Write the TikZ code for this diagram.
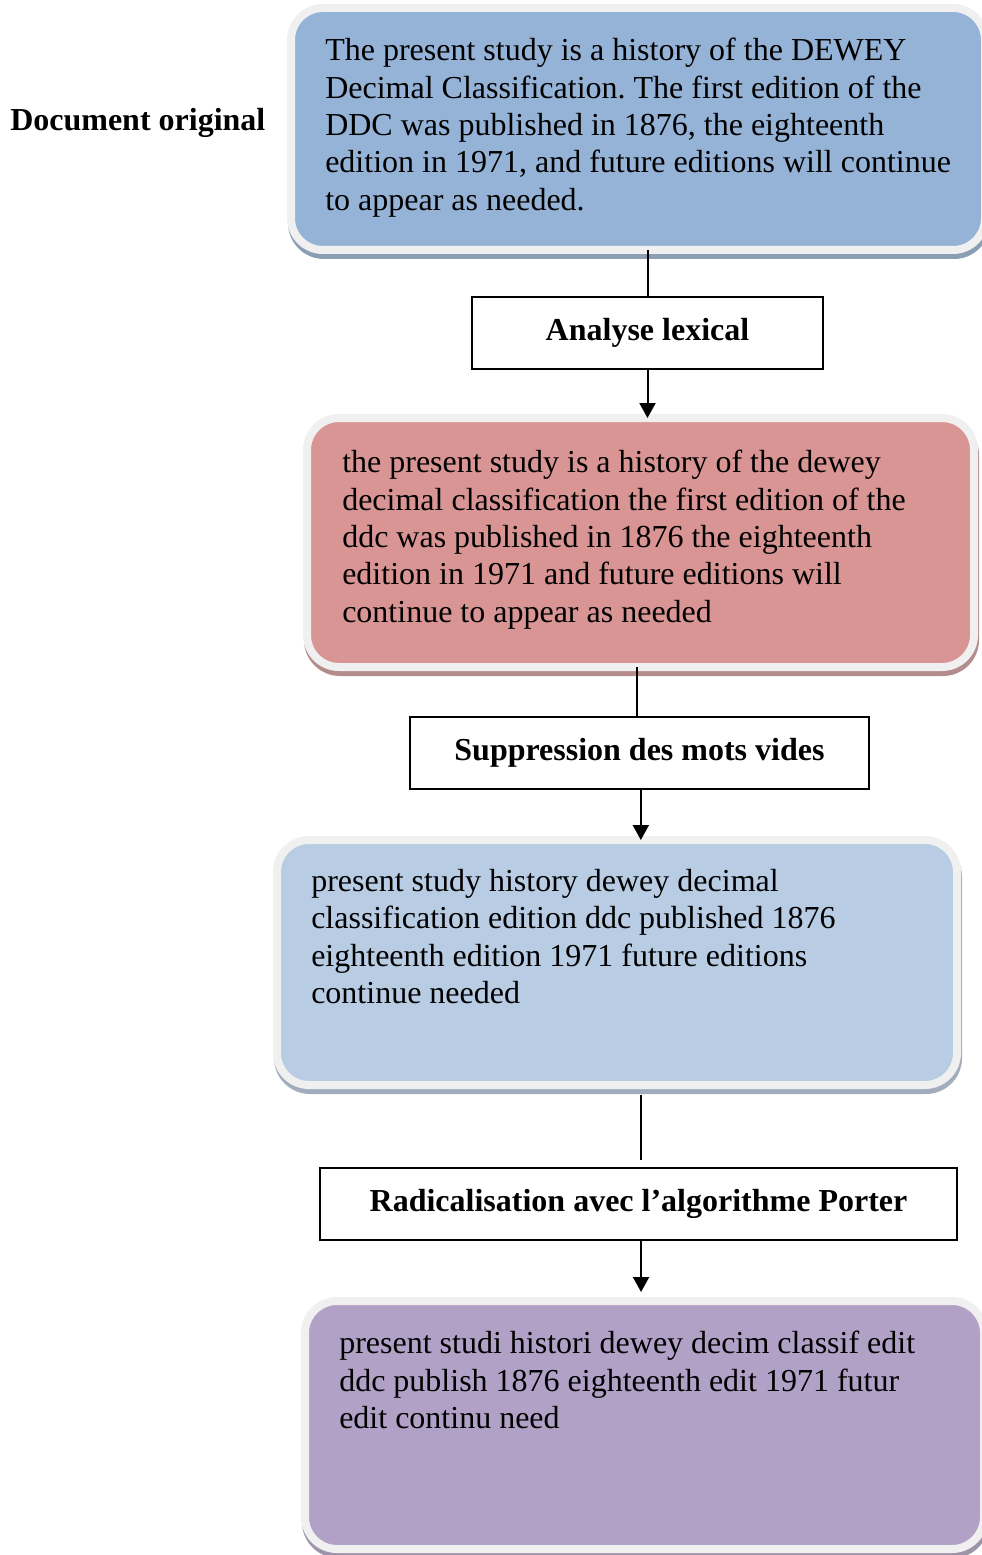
\documentclass[tikz,border=0pt]{standalone}
\usepackage{fontspec}
\setmainfont{Liberation Serif}
\usetikzlibrary{arrows.meta,shadows}
\frenchspacing

\definecolor{boxrim}{RGB}{240,240,240}
\definecolor{origblue}{RGB}{149,179,215}
\definecolor{lexred}{RGB}{217,149,148}
\definecolor{videblue}{RGB}{184,204,228}
\definecolor{porterlilac}{RGB}{178,161,199}

\begin{document}
\begin{tikzpicture}[x=0.75pt,y=0.75pt,yscale=-1,xscale=1,
  roundbox/.style={rectangle, rounded corners=24pt, draw=boxrim, line width=6pt, fill=#1, inner sep=0pt, outer sep=0pt,
    drop shadow={shadow xshift=0.75pt, shadow yshift=-3.75pt, draw=#1!60!gray, fill=#1!60!gray, line width=6pt, opacity=1}},
  boxtext/.style={anchor=north west, inner sep=0pt, align=left, font=\fontsize{24pt}{28pt}\selectfont},
  stepbox/.style={draw, line width=1.5pt, inner sep=0pt, minimum height=54pt, font=\fontsize{24pt}{28pt}\selectfont\bfseries},
  link/.style={line width=1.5pt},
  flow/.style={line width=1.5pt, -{Triangle[length=11.25pt,width=12pt]}}]
\useasboundingbox (0,0) rectangle (981,1555);

%Rounded Rect
\node[roundbox=origblue, minimum width=520.5pt, minimum height=181.5pt] (doc) at (638,129) {};
\node[boxtext] (doctxt) at (325,38) {The present study is a history of the DEWEY\\Decimal Classification. The first edition of the\\DDC was published in 1876, the eighteenth\\edition in 1971, and future editions will continue\\to appear as needed.};
%Text
\node[anchor=base west, inner sep=0pt, font=\fontsize{24pt}{28pt}\selectfont\bfseries] (doclabel) at (10,131) {Document original};

%Shape: Rectangle
\node[stepbox, minimum width=263.25pt] (analyse) at (647.5,333) {\raisebox{1.5pt}{Analyse lexical}};

%Rounded Rect
\node[roundbox=lexred, minimum width=500.25pt, minimum height=186.75pt] (lex) at (640.5,542.5) {};
\node[boxtext] (lextxt) at (342,450) {the present study is a history of the dewey\\decimal classification the first edition of the\\ddc was published in 1876 the eighteenth\\edition in 1971 and future editions will\\continue to appear as needed};

%Shape: Rectangle
\node[stepbox, minimum width=344.25pt] (suppr) at (639.5,753) {\raisebox{1.5pt}{Suppression des mots vides}};

%Rounded Rect
\node[roundbox=videblue, minimum width=510pt, minimum height=183.75pt] (vide) at (617,962.5) {};
\node[boxtext] (videtxt) at (311,869) {present study history dewey decimal\\classification edition ddc published 1876\\eighteenth edition 1971 future editions\\continue needed};

%Shape: Rectangle
\node[stepbox, minimum width=477.75pt] (radic) at (638.5,1204) {\raisebox{1.5pt}{Radicalisation avec l’algorithme Porter}};

%Rounded Rect
\node[roundbox=porterlilac, minimum width=509.25pt, minimum height=186pt] (porter) at (644.5,1425) {};
\node[boxtext] (portertxt) at (339,1331) {present studi histori dewey decim classif edit\\ddc publish 1876 eighteenth edit 1971 futur\\edit continu need};

%Straight Lines
\draw[link] (analyse.north |- doc.south) -- (analyse.north);
\draw[flow] (analyse.south) -- (analyse.south |- lex.north);
\draw[link] ([xshift=-1.9pt]suppr.north |- lex.south) -- ([xshift=-1.9pt]suppr.north);
\draw[flow] ([xshift=1pt]suppr.south) -- ([xshift=1pt]suppr.south |- vide.north);
\draw[link, shorten <=7.5pt, shorten >=5.5pt] ([xshift=1.9pt]radic.north |- vide.south) -- ([xshift=1.9pt]radic.north);
\draw[flow, shorten >=6.75pt] ([xshift=1.9pt]radic.south) -- ([xshift=1.9pt]radic.south |- porter.north);

\end{tikzpicture}
\end{document}
